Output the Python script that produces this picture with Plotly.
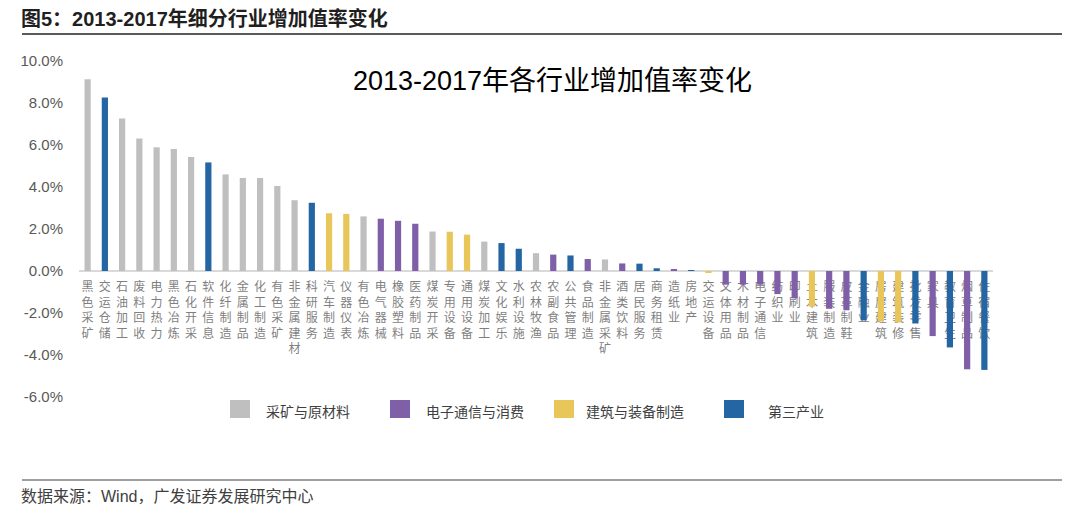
import plotly.graph_objects as go

# ---------------- data ----------------
categories = ["黑色采矿", "交运仓储", "石油加工", "废料回收", "电力热力", "黑色冶炼", "石化开采",
              "软件信息", "化纤制造", "金属制品", "化工制造", "有色采矿", "非金属建材", "科研服务",
              "汽车制造", "仪器仪表", "有色冶炼", "电气器械", "橡胶塑料", "医药制品", "煤炭开采",
              "专用设备", "通用设备", "煤炭加工", "文化娱乐", "水利设施", "农林牧渔", "农副食品",
              "公共管理", "食品制造", "非金属采矿", "酒类饮料", "居民服务", "商务租赁", "造纸业",
              "房地产", "交运设备", "文体用品", "木材制品", "电子通信", "纺织业", "印刷业",
              "土木建筑", "服装制造", "皮革制鞋", "金融业", "房屋建筑", "建筑装修", "批发零售",
              "家具", "教育卫生", "烟草制品", "住宿餐饮"]
values = [9.13, 8.26, 7.26, 6.31, 5.89, 5.81, 5.43,
          5.17, 4.60, 4.43, 4.43, 4.05, 3.37, 3.25,
          2.75, 2.72, 2.60, 2.49, 2.39, 2.25, 1.88,
          1.87, 1.73, 1.40, 1.33, 1.06, 0.85, 0.78,
          0.74, 0.57, 0.55, 0.36, 0.35, 0.13, 0.08,
          0.01, -0.08, -0.65, -0.65, -0.65, -1.10, -1.30,
          -1.70, -1.80, -1.87, -2.35, -2.40, -2.45, -2.50,
          -3.10, -3.64, -4.68, -4.71]
groups = ["采矿与原材料", "第三产业", "采矿与原材料", "采矿与原材料", "采矿与原材料", "采矿与原材料", "采矿与原材料",
          "第三产业", "采矿与原材料", "采矿与原材料", "采矿与原材料", "采矿与原材料", "采矿与原材料", "第三产业",
          "建筑与装备制造", "建筑与装备制造", "采矿与原材料", "电子通信与消费", "电子通信与消费", "电子通信与消费", "采矿与原材料",
          "建筑与装备制造", "建筑与装备制造", "采矿与原材料", "第三产业", "第三产业", "采矿与原材料", "电子通信与消费",
          "第三产业", "电子通信与消费", "采矿与原材料", "电子通信与消费", "第三产业", "第三产业", "电子通信与消费",
          "第三产业", "建筑与装备制造", "电子通信与消费", "电子通信与消费", "电子通信与消费", "电子通信与消费", "电子通信与消费",
          "建筑与装备制造", "电子通信与消费", "电子通信与消费", "第三产业", "建筑与装备制造", "建筑与装备制造", "第三产业",
          "电子通信与消费", "第三产业", "电子通信与消费", "第三产业"]
group_names = ["采矿与原材料", "电子通信与消费", "建筑与装备制造", "第三产业"]
group_colors = ["#BFBFBF", "#7F5FA8", "#E8C65A", "#2466A3"]
y_ticks = [-6, -4, -2, 0, 2, 4, 6, 8, 10]
y_tick_labels = ["-6.0%", "-4.0%", "-2.0%", "0.0%", "2.0%", "4.0%", "6.0%", "8.0%", "10.0%"]

chart_title = "2013-2017年各行业增加值率变化"
header = "图5：2013-2017年细分行业增加值率变化"
source = "数据来源：Wind，广发证券发展研究中心"

# ---------------- layout geometry (page pixels) ----------------
PAGE_W, PAGE_H = 1080, 515
OFF = 8                       # default body margin of the html page
W, H = PAGE_W - OFF, PAGE_H - OFF
L, R, T, B = 79, 993, 61, 397  # plot area in page pixels
Y_MIN, Y_MAX = -6, 10
PX_PER_UNIT = (B - T) / (Y_MAX - Y_MIN)


def px(x):
    return (x - L) / (R - L)


def py(y):
    return (B - y) / (B - T)


fig = go.Figure()

# vertical category labels, drawn beneath the bars
fig.add_trace(go.Scatter(
    x=categories, y=[-11.0 / PX_PER_UNIT] * len(categories),
    text=["<br>".join(c) for c in categories], mode="text", textposition="bottom center",
    textfont=dict(family="Noto Sans CJK SC", size=12, color="#7F7F7F"),
    showlegend=False, hoverinfo="skip", xaxis="x", yaxis="y"))

# bars, one trace per group
for g, c in zip(group_names, group_colors):
    xs = [cat for cat, gg in zip(categories, groups) if gg == g]
    ys = [v for v, gg in zip(values, groups) if gg == g]
    fig.add_trace(go.Bar(x=xs, y=ys, name=g, marker=dict(color=c, line=dict(width=0)),
                         width=0.36, xaxis="x2", yaxis="y2", showlegend=False))

xaxis_common = dict(type="category", categoryorder="array", categoryarray=categories,
                    range=[-0.5, len(categories) - 0.5], showticklabels=False,
                    showgrid=False, zeroline=False, showline=False, ticks="")
fig.update_layout(
    width=W, height=H,
    margin=dict(l=L - OFF, r=W - (R - OFF), t=T - OFF, b=H - (B - OFF), pad=0, autoexpand=False),
    paper_bgcolor="white", plot_bgcolor="rgba(0,0,0,0)",
    barmode="overlay",
    showlegend=False,
    xaxis=dict(**xaxis_common),
    xaxis2=dict(**xaxis_common, overlaying="x", matches="x"),
    yaxis=dict(range=[Y_MIN, Y_MAX], tickvals=y_ticks, ticktext=y_tick_labels,
               tickfont=dict(family="Liberation Sans, Arial", size=15, color="#595959"),
               showgrid=False, zeroline=True, zerolinecolor="#D9D9D9", zerolinewidth=1.5,
               showline=False, ticks="outside", ticklen=12, tickcolor="rgba(0,0,0,0)"),
    yaxis2=dict(range=[Y_MIN, Y_MAX], overlaying="y", visible=False, matches="y"),
)

annotations = []
shapes = []

# chart title
annotations.append(dict(text=chart_title, x=px(552), y=py(81), xref="paper", yref="paper",
                        xanchor="center", yanchor="middle", showarrow=False,
                        font=dict(family="Liberation Sans, Noto Sans CJK SC", size=27, color="#000000")))
# header
annotations.append(dict(text="<b>" + header + "</b>", x=px(19), y=py(18), xref="paper", yref="paper",
                        xanchor="left", yanchor="middle", showarrow=False,
                        font=dict(family="Liberation Sans, Noto Sans CJK SC", size=20, color="#1F1F1F")))
shapes.append(dict(type="line", xref="paper", yref="paper", x0=px(22), x1=px(1062), y0=py(34), y1=py(34),
                   line=dict(color="#595959", width=2)))
# footer
shapes.append(dict(type="line", xref="paper", yref="paper", x0=px(22), x1=px(1062), y0=py(480), y1=py(480),
                   line=dict(color="#7F7F7F", width=1.5)))
annotations.append(dict(text=source, x=px(19), y=py(496), xref="paper", yref="paper",
                        xanchor="left", yanchor="middle", showarrow=False,
                        font=dict(family="Liberation Sans, Noto Sans CJK SC", size=16, color="#404040")))

# manual legend
legend_sq_x = [230, 390, 554, 724]
legend_txt_x = [264, 424, 584, 766]
for g, c, sx, tx in zip(group_names, group_colors, legend_sq_x, legend_txt_x):
    shapes.append(dict(type="rect", xref="paper", yref="paper", x0=px(sx), x1=px(sx + 20),
                       y0=py(418), y1=py(400), fillcolor=c, line=dict(width=0)))
    annotations.append(dict(text=g, x=px(tx), y=py(411), xref="paper", yref="paper",
                            xanchor="left", yanchor="middle", showarrow=False,
                            font=dict(family="Noto Sans CJK SC", size=14, color="#404040")))

fig.update_layout(annotations=annotations, shapes=shapes)
fig.write_html("out.html")
